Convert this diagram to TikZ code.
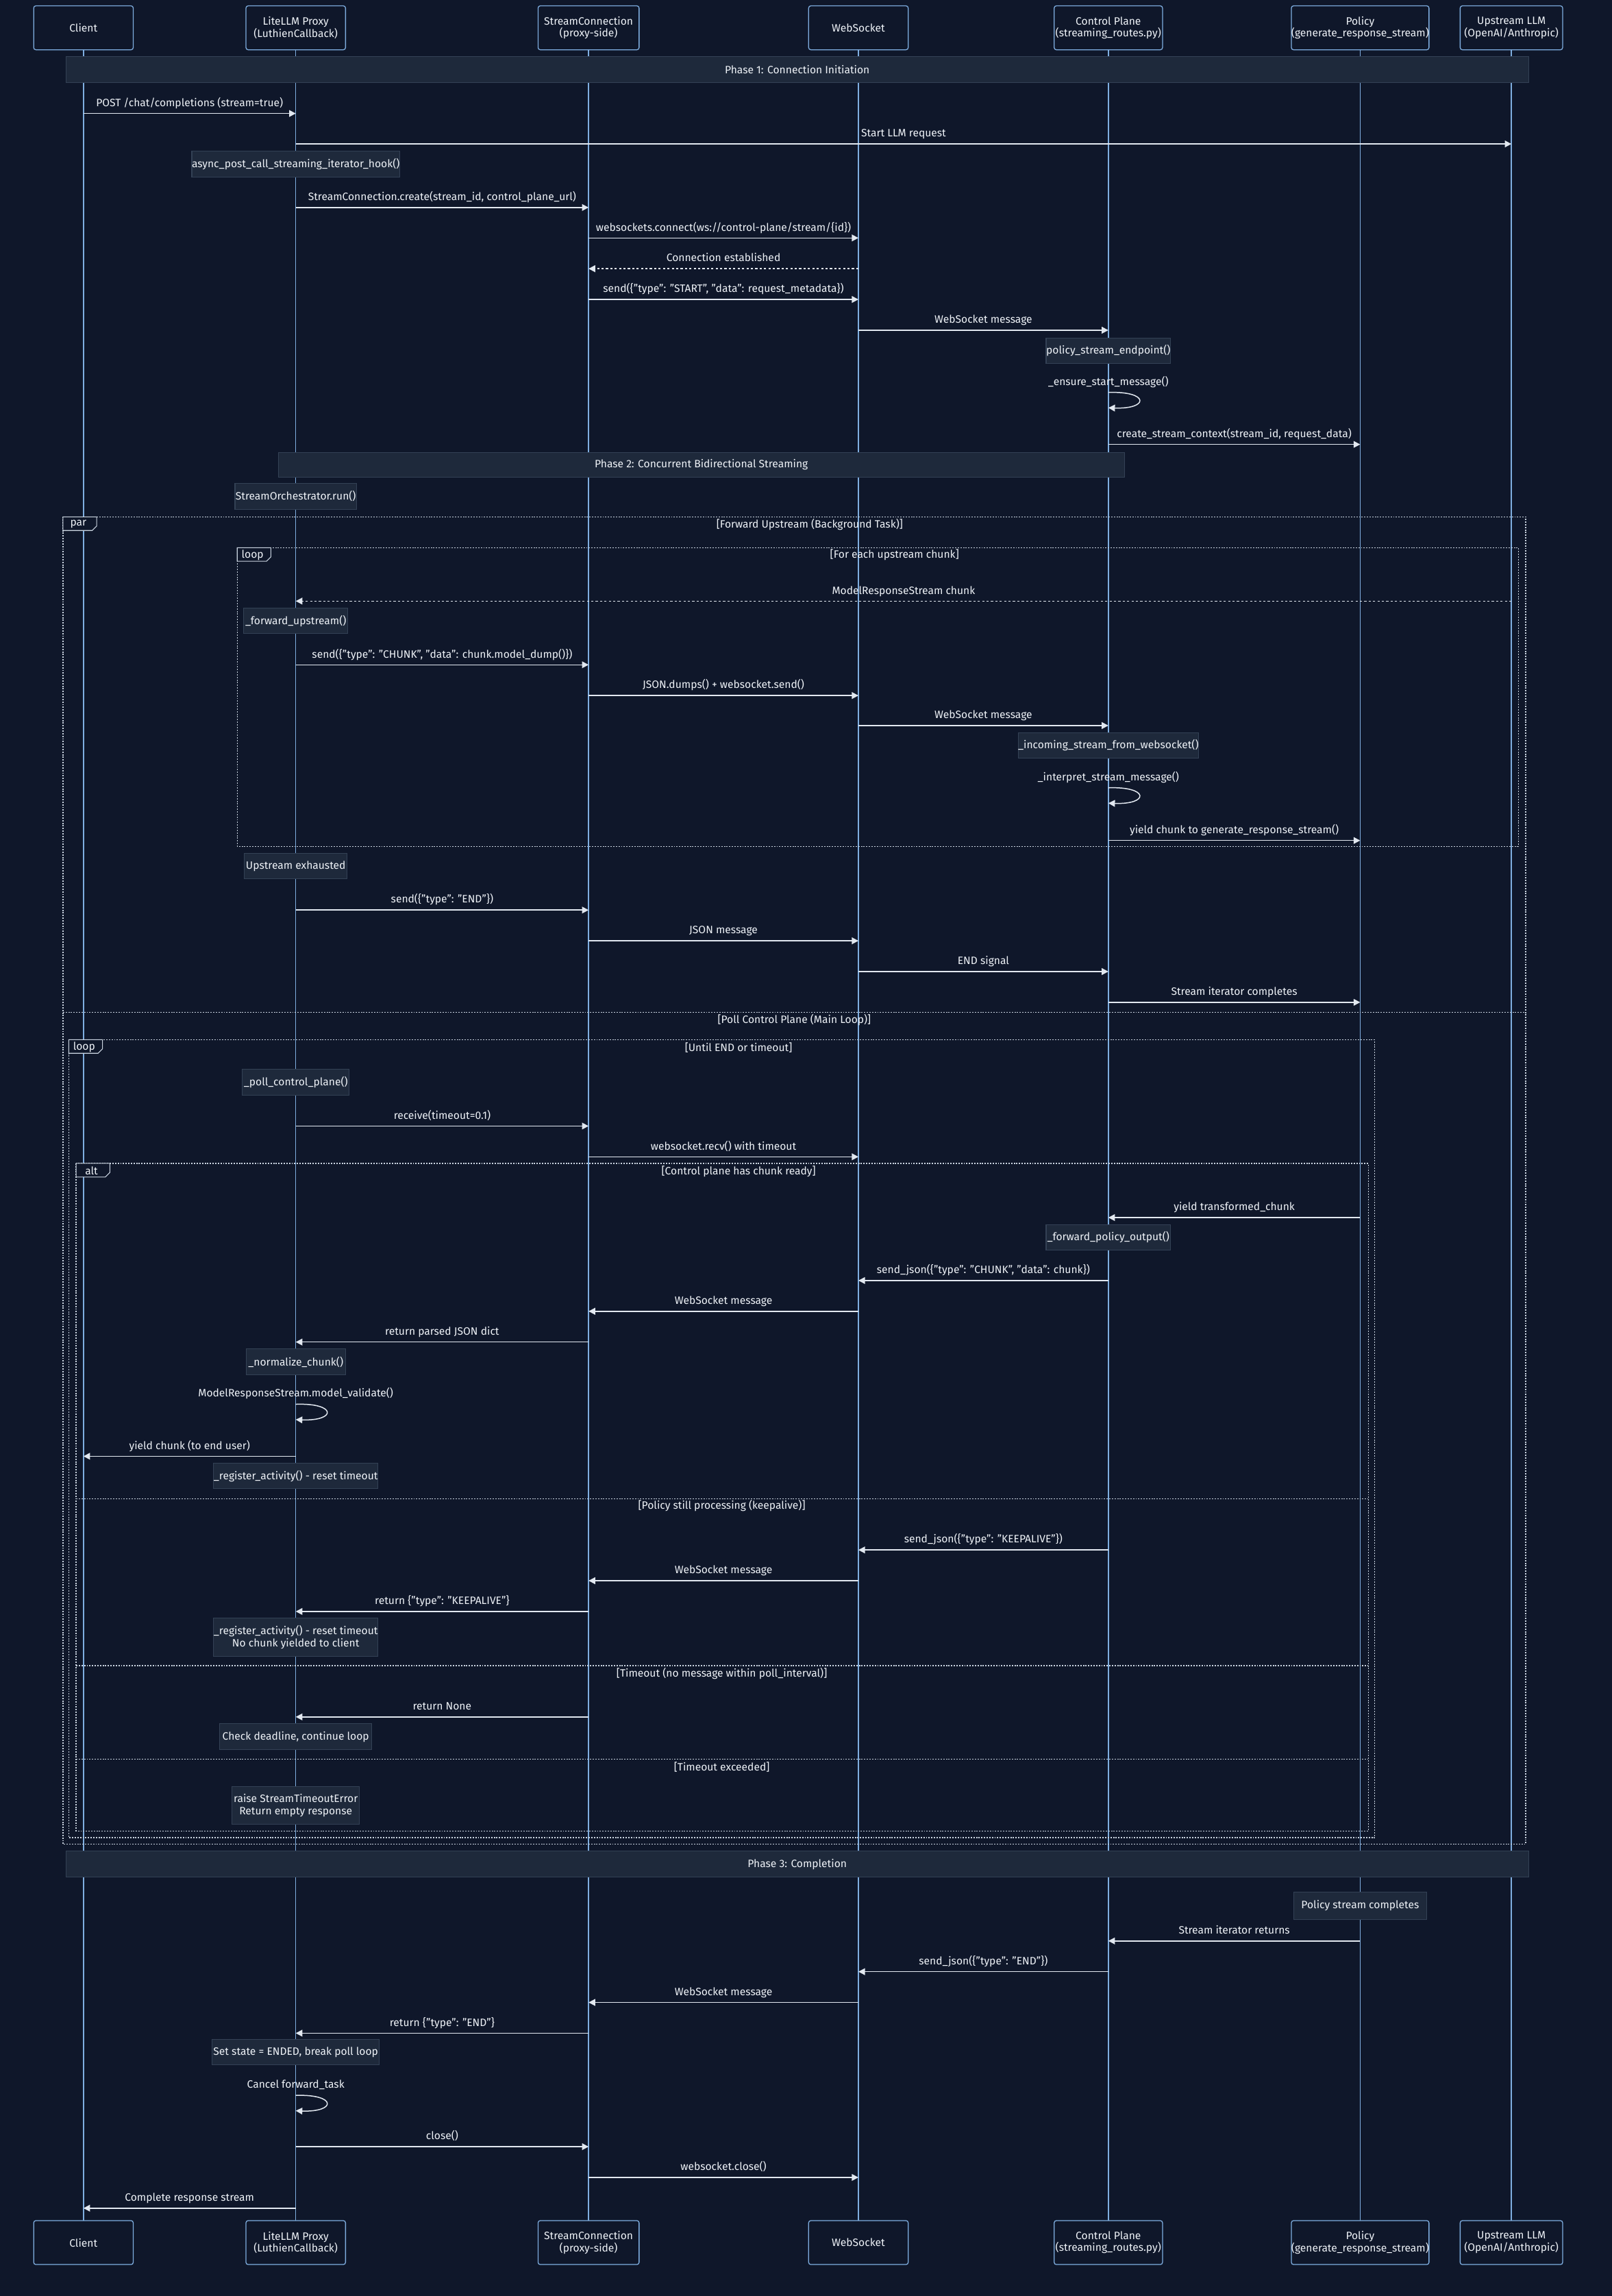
\documentclass[tikz,border=0pt]{standalone}
\usepackage{fontspec}
\setmainfont{Fira Sans}
\usetikzlibrary{arrows.meta}
\definecolor{bg}{HTML}{0F172A}
\definecolor{notefill}{HTML}{1E293B}
\definecolor{notedraw}{HTML}{334155}
\definecolor{life}{HTML}{7FAEE0}
\definecolor{txt}{HTML}{EEF2F7}
\definecolor{arr}{HTML}{E2E8F0}
\definecolor{frm}{HTML}{CBD5E1}
\def\xA{57}\def\xB{202}\def\xC{402}\def\xD{586.3}\def\xE{757}\def\xF{929}\def\xG{1032.3}
\newcommand{\msg}[6][msgline]{%
  \coordinate (#2s) at (#3,#5);
  \coordinate (#2e) at (#4,#5);
  \draw[#1] (#2s) -- node[lbl] (#2l) {#6} (#2e);}
\newcommand{\selfmsg}[4]{%
  \coordinate (#1a) at (#2,#3);
  \coordinate (#1b) at ([yshift=-10.5pt]#1a);
  \draw[msgline] (#1a) .. controls +(28,-1) and +(28,1) .. (#1b);
  \node[anchor=base] (#1l) at ([yshift=5pt]#1a) {#4};}
\newcommand{\fframe}[6]{% name x0 y0 x1 y1 tab
  \draw[frameline] (#2,#3) rectangle (#4,#5);
  \draw[tabline] (#2,#3) -- ++(23,0) -- ++(0,6.3) -- ++(-3,3) -- (#2,#3+9.3) -- cycle;
  \node (#1t) at (#2+10.5,#3+5) {#6};}
\begin{document}
\begin{tikzpicture}[x=1pt,y=-1pt,
  every node/.style={font=\fontsize{7.3}{8.2}\selectfont, text=txt, inner sep=0pt},
  actor/.style={draw=life, fill=bg, rounded corners=1.5pt, line width=0.6pt, minimum height=30pt, align=center},
  lifeline/.style={draw=life, line width=0.7pt},
  msgline/.style={draw=arr, line width=0.7pt, -{Triangle[length=4.5pt,width=4.6pt]}},
  retline/.style={msgline, dash pattern=on 1.5pt off 1.5pt},
  lbl/.style={midway, anchor=base, yshift=4.8pt},
  note/.style={draw=notedraw, fill=notefill, line width=0.5pt, minimum height=17.5pt, align=center},
  banner/.style={draw=notedraw, fill=notefill, line width=0.5pt},
  frameline/.style={draw=frm, line width=0.6pt, dash pattern=on 0.9pt off 0.9pt},
  tabline/.style={draw=frm, line width=0.5pt, fill=bg},
]
\fill[bg] (0,0) rectangle (1101,1568);
\useasboundingbox (0,0) rectangle (1101,1568);
% actors
\foreach \nm/\xx/\ww/\tt in {A/\xA/68/{Client}, B/\xB/68/{LiteLLM Proxy\\(LuthienCallback)}, C/\xC/69/{StreamConnection\\(proxy-side)}, D/\xD/68/{WebSocket}, E/\xE/74/{Control Plane\\(streaming\_routes.py)}, F/\xF/91/{Policy\\(generate\_response\_stream)}, G/\xG/70/{Upstream LLM\\(OpenAI/Anthropic)}}{
  \coordinate (top\nm) at (\xx,34);
  \coordinate (bot\nm) at (\xx,1517);
  \draw[lifeline] (top\nm) -- (bot\nm);
  \node[actor, minimum width=\ww pt] (t\nm) at (\xx,19) {\tt};
  \node[actor, minimum width=\ww pt] (b\nm) at (\xx,1531.5) {\tt};
}
% Phase 1
\node[banner, minimum width=999pt, minimum height=18pt] (ph1) at (544.5,47.5) {Phase 1: Connection Initiation};
\msg{m1}{\xA}{\xB}{77.5}{POST /chat/completions (stream=true)}
\msg{m2}{\xB}{\xG}{98.3}{Start LLM request}
\node[note, minimum width=137pt] (n1) at (202,112) {async\_post\_call\_streaming\_iterator\_hook()};
\msg{m3}{\xB}{\xC}{141.7}{StreamConnection.create(stream\_id, control\_plane\_url)}
\msg{m4}{\xC}{\xD}{162.5}{websockets.connect(ws://control-plane/stream/\{id\})}
\msg[retline]{m5}{\xD}{\xC}{183.5}{Connection established}
\msg{m6}{\xC}{\xD}{204.5}{send(\{"type": "START", "data": request\_metadata\})}
\msg{m7}{\xD}{\xE}{225.5}{WebSocket message}
\node[note, minimum width=85pt] (n2) at (757,239.5) {policy\_stream\_endpoint()};
\selfmsg{s1}{\xE}{268}{\_ensure\_start\_message()}
\msg{m8}{\xE}{\xF}{303.5}{create\_stream\_context(stream\_id, request\_data)}
% Phase 2
\node[banner, minimum width=578pt, minimum height=17pt] (ph2) at (479,317.5) {Phase 2: Concurrent Bidirectional Streaming};
\node[note, minimum width=83pt] (n3) at (202,339) {StreamOrchestrator.run()};
\fframe{par}{43}{353}{1042}{1259.5}{par}
\node (parc1) at (553,358) {[Forward Upstream (Background Task)]};
\fframe{lpa}{162}{374}{1037}{578}{loop}
\node (lpac) at (611,379) {[For each upstream chunk]};
\msg[retline]{m9}{\xG}{\xB}{410.5}{ModelResponseStream chunk}
\node[note, minimum width=71pt] (n4) at (202,424) {\_forward\_upstream()};
\msg{m10}{\xB}{\xC}{454}{send(\{"type": "CHUNK", "data": chunk.model\_dump()\})}
\msg{m11}{\xC}{\xD}{475}{JSON.dumps() + websocket.send()}
\msg{m12}{\xD}{\xE}{495.5}{WebSocket message}
\node[note, minimum width=121pt] (n5) at (757,509) {\_incoming\_stream\_from\_websocket()};
\selfmsg{s2}{\xE}{538}{\_interpret\_stream\_message()}
\msg{m13}{\xE}{\xF}{574}{yield chunk to generate\_response\_stream()}
\node[note, minimum width=70pt] (n6) at (202,591.5) {Upstream exhausted};
\msg{m14}{\xB}{\xC}{621.5}{send(\{"type": "END"\})}
\msg{m15}{\xC}{\xD}{642.5}{JSON message}
\msg{m16}{\xD}{\xE}{663.5}{END signal}
\msg{m17}{\xE}{\xF}{684.5}{Stream iterator completes}
\draw[frameline] (43,691.5) -- (1042,691.5);
\node (parc2) at (542.5,696.5) {[Poll Control Plane (Main Loop)]};
\fframe{lpb}{47}{710}{939}{1255}{loop}
\node (lpbc) at (504.5,715.5) {[Until END or timeout]};
\node[note, minimum width=73pt] (n7) at (202,739) {\_poll\_control\_plane()};
\msg{m18}{\xB}{\xC}{769}{receive(timeout=0.1)}
\msg{m19}{\xC}{\xD}{790}{websocket.recv() with timeout}
\fframe{alt}{52}{794.5}{934.5}{1250.5}{alt}
\node (altc1) at (504.5,800) {[Control plane has chunk ready]};
\msg{m20}{\xF}{\xE}{831.5}{yield transformed\_chunk}
\node[note, minimum width=85pt] (n8) at (757,845) {\_forward\_policy\_output()};
\msg{m21}{\xE}{\xD}{874.5}{send\_json(\{"type": "CHUNK", "data": chunk\})}
\msg{m22}{\xD}{\xC}{895.5}{WebSocket message}
\msg{m23}{\xC}{\xB}{916.5}{return parsed JSON dict}
\node[note, minimum width=68pt] (n9) at (202,930) {\_normalize\_chunk()};
\selfmsg{s3}{\xB}{959}{ModelResponseStream.model\_validate()}
\msg{m24}{\xB}{\xA}{994.5}{yield chunk (to end user)}
\node[note, minimum width=112pt] (n10) at (202,1008) {\_register\_activity() - reset timeout};
\draw[frameline] (52,1023.5) -- (934.5,1023.5);
\node (altc2) at (493,1028.5) {[Policy still processing (keepalive)]};
\msg{m25}{\xE}{\xD}{1058.5}{send\_json(\{"type": "KEEPALIVE"\})}
\msg{m26}{\xD}{\xC}{1079.5}{WebSocket message}
\msg{m27}{\xC}{\xB}{1100.5}{return \{"type": "KEEPALIVE"\}}
\node[note, minimum width=112pt, minimum height=26pt] (n11) at (202,1118) {\_register\_activity() - reset timeout\\No chunk yielded to client};
\draw[frameline] (52,1137.5) -- (934.5,1137.5);
\node (altc3) at (493,1143) {[Timeout (no message within poll\_interval)]};
\msg{m28}{\xC}{\xB}{1172.5}{return None}
\node[note, minimum width=104pt] (n12) at (202,1186) {Check deadline, continue loop};
\draw[frameline] (52,1201.5) -- (934.5,1201.5);
\node (altc4) at (493,1207) {[Timeout exceeded]};
\node[note, minimum width=87pt, minimum height=26pt] (n13) at (202,1233) {raise StreamTimeoutError\\Return empty response};
% Phase 3
\node[banner, minimum width=999pt, minimum height=18pt] (ph3) at (544.5,1273) {Phase 3: Completion};
\node[note, minimum width=91pt, minimum height=19pt] (n14) at (929,1301.5) {Policy stream completes};
\msg{m29}{\xF}{\xE}{1325.5}{Stream iterator returns}
\msg{m30}{\xE}{\xD}{1346.5}{send\_json(\{"type": "END"\})}
\msg{m31}{\xD}{\xC}{1367.5}{WebSocket message}
\msg{m32}{\xC}{\xB}{1388.5}{return \{"type": "END"\}}
\node[note, minimum width=114pt] (n15) at (202,1401.5) {Set state = ENDED, break poll loop};
\selfmsg{s4}{\xB}{1431}{Cancel forward\_task}
\msg{m33}{\xB}{\xC}{1466}{close()}
\msg{m34}{\xC}{\xD}{1487}{websocket.close()}
\msg{m35}{\xB}{\xA}{1508}{Complete response stream}
\end{tikzpicture}
\end{document}
